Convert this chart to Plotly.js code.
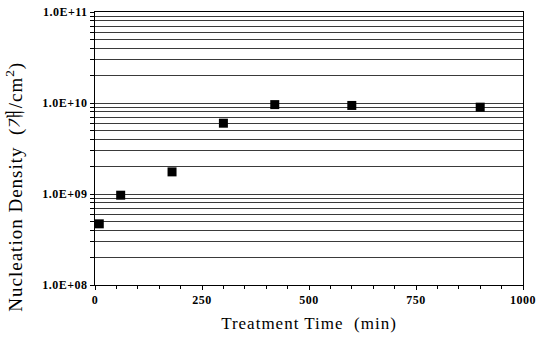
<!DOCTYPE html>
<html><head><meta charset="utf-8">
<script src="https://cdn.plot.ly/plotly-3.0.1.min.js"></script>
<style>html,body{margin:0;padding:0;background:#fff}
text.xtitle,.annotation-text{letter-spacing:1px}
.xtick text,.ytick text{letter-spacing:0.5px}
</style>
</head><body>
<div id="chart" style="width:537px;height:340px"></div>
<script>
const timeMin = [10, 60, 180, 300, 420, 600, 900];
const density = [4.7e8, 9.7e8, 1.75e9, 6.0e9, 9.6e9, 9.4e9, 9.0e9];
const majorVals = [1e8, 1e9, 1e10, 1e11];
const majorText = ["1.0E+08", "1.0E+09", "1.0E+10", "1.0E+11"];
const xTickVals = [0, 250, 500, 750, 1000];
const minorMantissas = [2, 3, 4, 5, 6, 7, 8, 9];
const decadeExps = [8, 9, 10];

const minorVals = [];
decadeExps.forEach(e => minorMantissas.forEach(m => minorVals.push(m * Math.pow(10, e))));

const serif = "Liberation Serif, Times New Roman, Noto Serif CJK KR, Noto Sans CJK KR, serif";

Plotly.newPlot("chart", [{
  x: timeMin, y: density, type: "scatter", mode: "markers",
  marker: {symbol: "square", size: 9, color: "#000"},
  showlegend: false
}], {
  width: 537, height: 340,
  margin: {l: 95, r: 14, t: 12, b: 55},
  paper_bgcolor: "#fff", plot_bgcolor: "#fff",
  xaxis: {
    range: [0, 1000], tickvals: xTickVals, ticktext: xTickVals.map(String),
    showgrid: false, zeroline: false,
    showline: true, linecolor: "#000", linewidth: 1, mirror: true,
    ticks: "outside", ticklen: 4, tickcolor: "#000",
    minor: {dtick: 50, ticks: "outside", ticklen: 3, tickcolor: "#000", showgrid: false},
    tickfont: {family: serif, size: 12, color: "#000", weight: "bold"},
    title: {text: "Treatment Time  (min)", font: {family: serif, size: 17, color: "#000"}, standoff: 10}
  },
  yaxis: {
    type: "log", range: [8, 11],
    tickvals: majorVals, ticktext: majorText,
    showgrid: true, gridcolor: "#3a3a3a", gridwidth: 1,
    zeroline: false,
    showline: true, linecolor: "#000", linewidth: 1, mirror: true,
    ticks: "outside", ticklen: 4, tickcolor: "#000",
    minor: {tickvals: minorVals, ticks: "outside", ticklen: 4, tickcolor: "#000",
            showgrid: true, gridcolor: "#3a3a3a", gridwidth: 1},
    tickfont: {family: serif, size: 12, color: "#000", weight: "bold"}
  },
  annotations: [{
    text: "Nucleation Density  (개/cm<sup>2</sup>)",
    xref: "paper", yref: "paper", x: -0.187, y: 0.36,
    xanchor: "center", yanchor: "middle", textangle: -90, showarrow: false,
    font: {family: serif, size: 19, color: "#000"}
  }]
}, {displayModeBar: false, staticPlot: true});
</script>
</body></html>
